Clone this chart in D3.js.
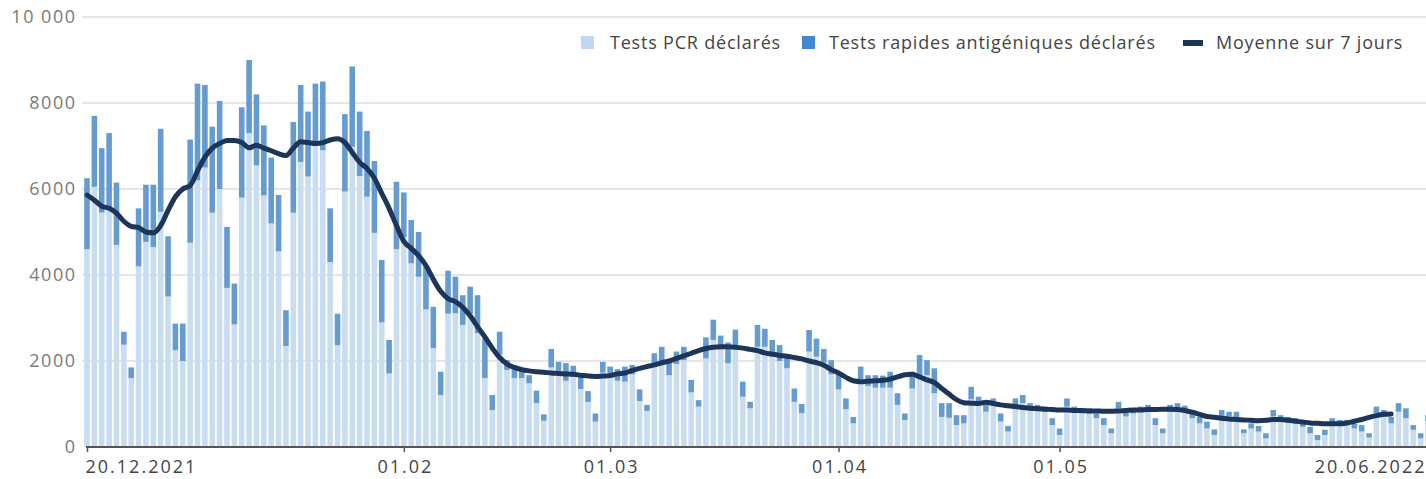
<!DOCTYPE html>
<html><head><meta charset="utf-8">
<script src="https://cdn.jsdelivr.net/npm/d3@7"></script>
<style>
body{margin:0;background:#fff;}
svg{display:block;font-family:"Open Sans",sans-serif;}
</style></head>
<body><svg id="chart" width="1426" height="479"></svg>
<script>
const startDate = "2021-12-20";
const seriesNames = ["Tests PCR déclarés","Tests rapides antigéniques déclarés","Moyenne sur 7 jours"];
const pcr = [4600,6050,5450,5500,4700,2380,1600,4200,4770,4650,5470,3500,2250,2000,4750,6200,6500,5450,6000,3700,
2850,5800,7300,6550,5850,5200,4550,2350,5450,6630,6290,7000,6900,4300,2370,5940,6980,6300,5820,4980,
2900,1710,4600,4880,4270,3960,3200,2300,1210,3100,3110,2840,3100,2650,1600,860,2150,1790,1600,1600,
1480,1020,610,1850,1770,1540,1640,1350,1050,590,1730,1670,1540,1520,1690,1070,840,1910,1960,1670,
1930,2020,1270,940,2060,2490,2270,1950,2370,1170,900,2330,2330,2100,2000,1830,1050,790,2220,2100,
1960,1690,1340,880,550,1580,1420,1380,1380,1380,980,630,1360,1670,1670,1250,700,680,510,550,
1110,1020,820,980,590,360,980,1020,860,860,820,510,280,940,820,780,780,670,510,320,
900,710,780,820,820,510,320,820,860,820,670,550,430,280,710,710,670,320,430,360,
200,710,630,590,550,470,320,160,280,550,550,510,430,360,220,780,710,550,820,670,
400,200,600];
const rapid = [1650,1650,1500,1800,1450,300,250,1350,1330,1450,1930,1400,620,870,2400,2250,1920,2000,2050,1420,
950,2100,1700,1650,1630,1530,1310,830,2110,1790,1510,1450,1600,1250,730,1800,1870,1500,1530,1670,
1450,780,1570,1040,1010,1040,1000,960,540,1000,850,690,630,880,920,350,530,230,230,190,
190,290,150,430,210,410,250,300,250,190,250,200,270,350,220,270,140,270,370,330,
290,310,290,150,490,470,320,480,360,350,150,510,420,390,370,290,310,210,500,420,
320,330,350,250,150,290,250,290,280,370,270,150,390,470,350,580,320,340,230,190,
290,150,160,150,190,130,150,190,160,120,120,160,150,190,120,120,120,110,160,110,
150,150,120,120,160,160,110,160,160,140,150,150,160,130,150,110,150,90,120,130,
120,150,110,110,120,120,150,120,120,120,80,120,120,150,100,160,150,150,200,230,
110,120,150];
const avg7 = [5860,5740,5600,5550,5440,5250,5130,5100,5000,4980,5150,5500,5820,6000,6080,6420,6740,6950,7060,7130,
7130,7080,6960,7020,6950,6890,6820,6780,6950,7100,7080,7060,7080,7140,7170,7080,6850,6620,6480,6250,
5900,5550,5150,4780,4620,4450,4220,3900,3620,3450,3380,3250,3050,2800,2560,2300,2080,1930,1850,1800,
1770,1750,1740,1720,1710,1700,1690,1670,1650,1640,1650,1660,1700,1720,1780,1830,1870,1910,1960,2000,
2060,2120,2180,2240,2290,2320,2330,2330,2320,2300,2270,2240,2190,2160,2130,2110,2080,2050,2000,1960,
1900,1800,1720,1620,1540,1520,1530,1540,1550,1580,1630,1680,1690,1630,1560,1500,1360,1230,1100,1030,
1020,1010,1040,1010,980,960,940,920,900,890,880,870,860,860,850,850,840,840,830,830,
840,850,860,860,870,870,880,880,870,850,810,760,710,690,670,650,640,630,620,610,
620,640,640,620,600,580,560,550,540,540,540,560,600,640,690,730,760,770];
const xTickDates = ["2021-12-20","2022-02-01","2022-03-01","2022-04-01","2022-05-01","2022-06-20"];
const xTickLabels = ["20.12.2021","01.02","01.03","01.04","01.05","20.06.2022"];
const yTicks = [0,2000,4000,6000,8000,10000];
const yTickLabels = ["0","2000","4000","6000","8000","10 000"];

const parse = d3.utcParse("%Y-%m-%d");
const t0 = parse(startDate);
const days = pcr.map((_, i) => d3.utcDay.offset(t0, i));
const svg = d3.select("#chart");

const x = d3.scaleUtc().domain([t0, parse("2022-06-20")]).range([87, 1428]);
const y = d3.scaleLinear().domain([0, 10000]).range([447, 17]);
const barW = 5.6;

// gridlines
svg.append("g").selectAll("line").data(yTicks.filter(d => d > 0)).join("line")
  .attr("x1", 82).attr("x2", 1426).attr("y1", d => y(d)).attr("y2", d => y(d))
  .attr("stroke", "#e6e6e6").attr("stroke-width", 2);

// y labels
svg.append("g").selectAll("text").data(yTicks).join("text")
  .attr("x", 76.5).attr("y", d => y(d)).attr("dy", "0.35em")
  .attr("text-anchor", "end").attr("font-size", 18).attr("letter-spacing", 1.5).attr("fill", "#7a7a7a")
  .text((d, i) => yTickLabels[i]);

// bars
const bars = svg.append("g");
bars.selectAll("rect.pcr").data(days).join("rect").attr("class", "pcr")
  .attr("x", d => x(d) - barW / 2).attr("width", barW)
  .attr("y", (d, i) => y(pcr[i])).attr("height", (d, i) => y(0) - y(pcr[i]))
  .attr("fill", "#c9ddf2");
bars.selectAll("rect.rap").data(days).join("rect").attr("class", "rap")
  .attr("x", d => x(d) - barW / 2).attr("width", barW)
  .attr("y", (d, i) => y(pcr[i] + rapid[i])).attr("height", (d, i) => y(pcr[i]) - y(pcr[i] + rapid[i]))
  .attr("fill", "#659bd1");

// line
const line = d3.line().x((d, i) => x(days[i])).y(d => y(d)).curve(d3.curveMonotoneX);
svg.append("path").datum(avg7).attr("d", line)
  .attr("fill", "none").attr("stroke", "#1c3559").attr("stroke-width", 5)
  .attr("stroke-linejoin", "round").attr("stroke-linecap", "round");

// x axis
const xAxis = d3.axisBottom(x).tickValues(xTickDates.map(parse))
  .tickFormat((d, i) => xTickLabels[i]).tickSize(5).tickPadding(8);
const gx = svg.append("g").attr("transform", "translate(0,447)").call(xAxis);
gx.select(".domain").attr("stroke", "#555").attr("stroke-width", 2).attr("d", "M86,0H1426");
gx.selectAll(".tick line").attr("stroke", "#555").attr("stroke-width", 1.5);
gx.selectAll(".tick text").attr("font-size", 18).attr("fill", "#444").attr("letter-spacing", 2)
  .attr("font-family", "Open Sans, sans-serif")
  .attr("text-anchor", (d, i) => i === 0 ? "start" : (i === xTickLabels.length - 1 ? "end" : "middle"))
  .attr("dx", (d, i) => i === 0 ? -2 : (i === xTickLabels.length - 1 ? -2 : 1));

// legend
const leg = svg.append("g").attr("font-size", 18).attr("letter-spacing", 0.8).attr("fill", "#444");
leg.append("rect").attr("x", 581).attr("y", 36).attr("width", 13).attr("height", 13).attr("fill", "#bfd7ef");
leg.append("text").attr("x", 610).attr("y", 43).attr("dy", "0.35em").text(seriesNames[0]);
leg.append("rect").attr("x", 802).attr("y", 36).attr("width", 13).attr("height", 13).attr("fill", "#3f86d3");
leg.append("text").attr("x", 829).attr("y", 43).attr("dy", "0.35em").text(seriesNames[1]);
leg.append("rect").attr("x", 1183).attr("y", 40).attr("width", 20).attr("height", 6).attr("fill", "#1c3559");
leg.append("text").attr("x", 1216).attr("y", 43).attr("dy", "0.35em").text(seriesNames[2]);
</script></body></html>
